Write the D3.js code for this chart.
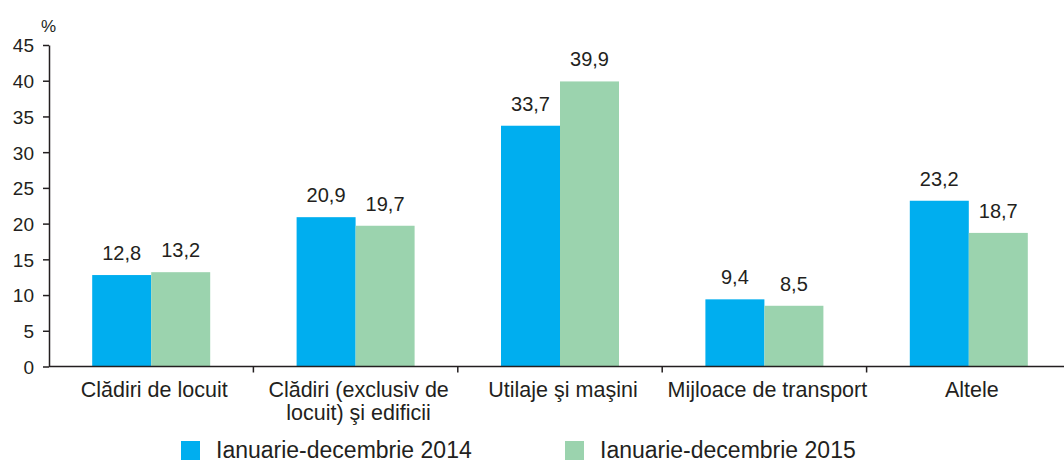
<!DOCTYPE html>
<html>
<head>
<meta charset="utf-8">
<script src="https://cdn.jsdelivr.net/npm/d3@7"></script>
<style>
  body { margin: 0; background: #fff; }
  svg { display: block; font-family: "Liberation Sans", Arial, sans-serif; }
  .axis path, .axis line { stroke: #231f20; stroke-width: 1.5; }
  .axis text { fill: #231f20; font-size: 19px; }
</style>
</head>
<body>
<svg id="chart" width="1064" height="463"></svg>
<script>
// categories and series
const categories = [
    ["Clădiri de locuit"],
    ["Clădiri (exclusiv de", "locuit) şi edificii"],
    ["Utilaje şi maşini"],
    ["Mijloace de transport"],
    ["Altele"]
];
const series2014 = [12.8, 20.9, 33.7, 9.4, 23.2];
const series2015 = [13.2, 19.7, 39.9, 8.5, 18.7];
const seriesNames = ["Ianuarie-decembrie 2014", "Ianuarie-decembrie 2015"];
const seriesColors = ["#00aeef", "#9bd3ae"];
const yTicks = [0, 5, 10, 15, 20, 25, 30, 35, 40, 45];

const svg = d3.select("#chart");
const plot = {left: 49, right: 1071, top: 45, bottom: 366.5};

const x0 = d3.scaleBand()
    .domain(d3.range(categories.length))
    .range([plot.left, plot.right]);

const groupWidth = 118;
const x1 = d3.scaleBand()
    .domain([0, 1])
    .range([(x0.bandwidth() - groupWidth) / 2, (x0.bandwidth() + groupWidth) / 2]);

const y = d3.scaleLinear().domain([0, 45]).range([plot.bottom, plot.top]);

const data = categories.map((c, i) => ({i: i, values: [series2014[i], series2015[i]]}));

// bars
const groups = svg.append("g").selectAll("g")
    .data(data)
    .enter()
    .append("g")
    .attr("transform", d => `translate(${x0(d.i)},0)`);

groups.selectAll("rect")
    .data(d => d.values.map((v, k) => ({k: k, v: v})))
    .enter()
    .append("rect")
    .attr("x", d => x1(d.k))
    .attr("y", d => y(d.v))
    .attr("width", x1.bandwidth())
    .attr("height", d => y(0) - y(d.v))
    .attr("fill", d => seriesColors[d.k]);

groups.selectAll("text.val")
    .data(d => d.values.map((v, k) => ({k: k, v: v})))
    .enter()
    .append("text")
    .attr("class", "val")
    .attr("x", d => x1(d.k) + x1.bandwidth() / 2)
    .attr("y", d => y(d.v) - 15)
    .attr("text-anchor", "middle")
    .attr("fill", "#231f20")
    .style("font-size", "20px")
    .text(d => d3.format(".1f")(d.v).replace(".", ","));

// y axis
const yAxis = svg.append("g")
    .attr("class", "axis")
    .attr("transform", `translate(${plot.left},0)`)
    .call(d3.axisLeft(y).tickValues(yTicks).tickSize(6).tickSizeOuter(0).tickPadding(9));
yAxis.selectAll("text").attr("dy", "0.36em");

// x axis line with category boundary ticks
const xAxis = svg.append("g").attr("class", "axis");
xAxis.append("line")
    .attr("x1", plot.left).attr("x2", plot.right)
    .attr("y1", plot.bottom).attr("y2", plot.bottom);
xAxis.selectAll("line.tick")
    .data(d3.range(1, categories.length))
    .enter()
    .append("line")
    .attr("class", "tick")
    .attr("x1", d => x0(d)).attr("x2", d => x0(d))
    .attr("y1", plot.bottom).attr("y2", plot.bottom + 6);

// category labels
const catLabels = svg.append("g").selectAll("text")
    .data(categories)
    .enter()
    .append("text")
    .attr("x", (d, i) => x0(i) + x0.bandwidth() / 2 + 3)
    .attr("y", 397)
    .attr("text-anchor", "middle")
    .attr("fill", "#231f20")
    .style("font-size", "21.5px");
catLabels.selectAll("tspan")
    .data(d => d)
    .enter()
    .append("tspan")
    .attr("x", function() { return this.parentNode.getAttribute("x"); })
    .attr("dy", (d, i) => i === 0 ? 0 : 23)
    .text(d => d);

// unit label
svg.append("text")
    .attr("x", 41).attr("y", 32)
    .attr("fill", "#231f20")
    .style("font-size", "17px")
    .text("%");

// legend (kept just inside the bottom edge)
const legendX = [181, 565];
const legend = svg.append("g").selectAll("g")
    .data(seriesNames)
    .enter()
    .append("g")
    .attr("transform", (d, i) => `translate(${legendX[i]},441)`);
legend.append("rect")
    .attr("width", 19).attr("height", 19)
    .attr("fill", (d, i) => seriesColors[i]);
legend.append("text")
    .attr("x", 35).attr("y", 16.5)
    .attr("fill", "#231f20")
    .style("font-size", "23px")
    .text(d => d);
</script>
</body>
</html>
